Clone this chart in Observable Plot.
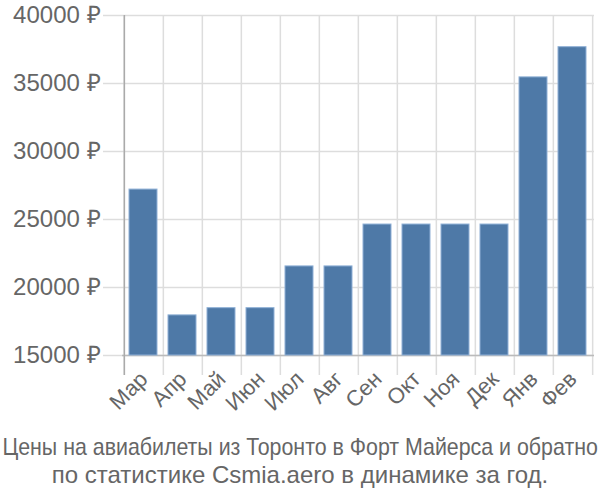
<!DOCTYPE html>
<html>
<head>
<meta charset="utf-8">
<script src="https://cdn.jsdelivr.net/npm/d3@7"></script>
<script src="https://cdn.jsdelivr.net/npm/@observablehq/plot@0.6"></script>
<style>
  body { margin: 0; background: #fff; overflow: hidden; }
  #chart { width: 600px; }
  .caption { width: 700px; margin-left: -50px; margin-top: 1px; font-family: "Liberation Sans", Arial, sans-serif; font-size: 24px; color: #666; text-align: center; line-height: 28px; white-space: nowrap; }
  .caption .l1 { transform: scaleX(0.89); transform-origin: 351px 0; }
</style>
</head>
<body>
<div id="chart"></div>
<script>
const months = ["Мар","Апр","Май","Июн","Июл","Авг","Сен","Окт","Ноя","Дек","Янв","Фев"];
const prices = [27200, 17950, 18480, 18480, 21550, 21550, 24630, 24630, 24630, 24630, 35450, 37670];
const yTicks = [15000, 20000, 25000, 30000, 35000, 40000];
const captionLines = ["Цены на авиабилеты из Торонто в Форт Майерса и обратно", "по статистике Csmia.aero в динамике за год."];

const data = months.map((m, i) => ({month: m, price: prices[i]}));
const step = (600 - 122 - 6) / months.length;

const chart = Plot.plot({
  width: 600,
  height: 432,
  marginTop: 15,
  marginLeft: 122,
  marginRight: 6,
  marginBottom: 77,
  style: {fontFamily: "Liberation Sans, Arial, sans-serif", background: "#fff"},
  x: {domain: months, paddingInner: 0, paddingOuter: 0, label: null},
  y: {domain: [15000, 40000], label: null},
  marks: [
    Plot.ruleY(yTicks, {stroke: "#ddd", strokeWidth: 1.5, insetLeft: -19}),
    Plot.ruleX(months, {x: d => d, stroke: "#ddd", strokeWidth: 1.5, dx: -step / 2, insetBottom: -20}),
    Plot.ruleX([months[months.length - 1]], {x: d => d, stroke: "#ddd", strokeWidth: 1.5, dx: step / 2, insetBottom: -20}),
    Plot.ruleY([15000], {stroke: "#bbb", strokeWidth: 1.5}),
    Plot.ruleX([months[0]], {x: d => d, stroke: "#aaa", strokeWidth: 1.5, dx: -step / 2, insetBottom: -20}),
    Plot.barY(data, {x: "month", y1: 15000, y2: "price", fill: "#4e79a7", stroke: "#8fb0d6", strokeWidth: 1, insetLeft: 5, insetRight: 6}),
    Plot.axisY({ticks: yTicks, tickSize: 0, tickPadding: 22, tickFormat: d => d + " ₽", fontSize: 24, fill: "#666", label: null}),
    Plot.axisX({tickSize: 0, tickPadding: 20, tickRotate: -45, fontSize: 22, fill: "#666", label: null})
  ]
});
document.getElementById("chart").appendChild(chart);
const cap = document.createElement("div");
cap.className = "caption";
captionLines.forEach((t, i) => { const d = document.createElement("div"); d.className = "l" + (i + 1); d.textContent = t; cap.appendChild(d); });
document.getElementById("chart").appendChild(cap);
</script>
</body>
</html>
